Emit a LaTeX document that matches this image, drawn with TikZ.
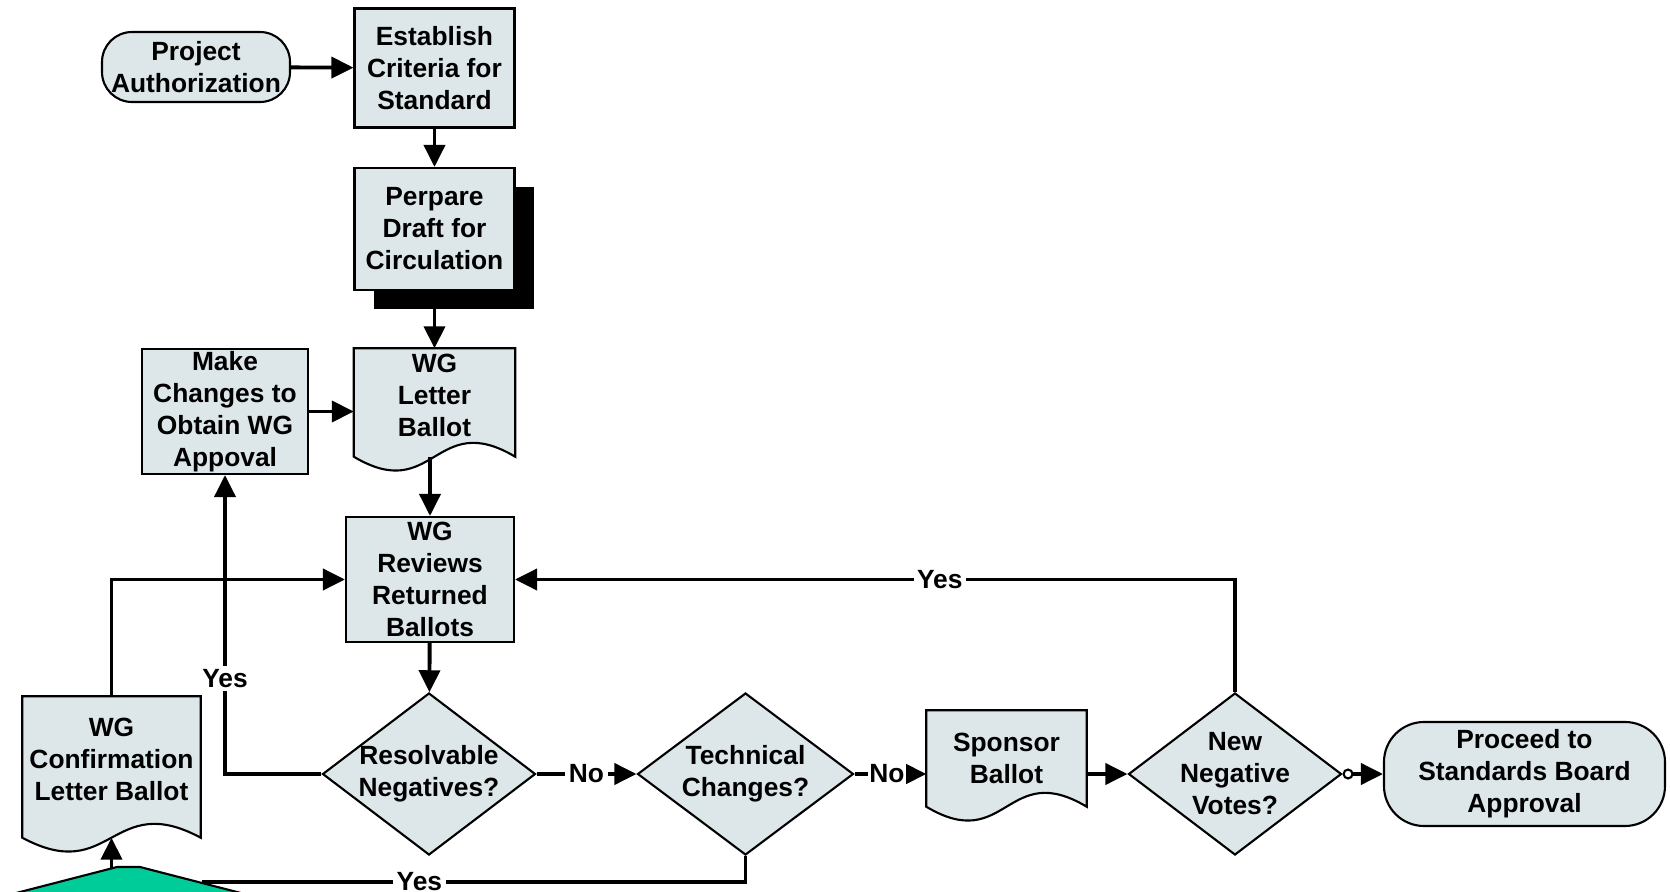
\documentclass[tikz,border=0pt]{standalone}
\usepackage{fontspec}
\setmainfont{Liberation Sans}
\usetikzlibrary{arrows.meta,positioning,calc,shapes.geometric,shadows,backgrounds}

\definecolor{boxfill}{RGB}{221,231,233}
\definecolor{tabgreen}{RGB}{0,204,153}

\tikzset{
  every node/.style={font=\fontsize{7.5}{9.1}\selectfont\bfseries, align=center},
  procbox/.style={rectangle, draw, line width=0.6pt, fill=boxfill, inner sep=0pt, minimum width=1.60cm},
  termbox/.style={rectangle, draw, line width=0.6pt, fill=boxfill, rounded corners=0.3cm, inner sep=0pt},
  docbox/.style={rectangle, inner sep=0pt},
  docline/.style={draw=black, fill=boxfill, line width=0.6pt},
  decision/.style={diamond, draw, line width=0.6pt, fill=boxfill, inner sep=0pt, minimum width=2.13cm, minimum height=1.62cm},
  shadowed/.style={drop shadow={fill=black, opacity=1, shadow xshift=0.19cm, shadow yshift=-0.19cm}},
  flow/.style={line width=1.1pt, -{Triangle[length=0.22cm,width=0.21cm]}},
  plainflow/.style={line width=1.1pt},
  answer/.style={fill=white, inner sep=1pt}
}

% document outline with wavy bottom, drawn behind the node
\newcommand{\docoutline}[1]{%
  \begin{pgfonlayer}{background}
    \path[docline] (#1.south west) -- (#1.north west) -- (#1.north east) -- (#1.south east)
      .. controls ($(#1.south)+(0,0.48)$) and ($(#1.south)+(0,-0.48)$) .. (#1.south west) -- cycle;
  \end{pgfonlayer}}

\begin{document}
\begin{tikzpicture}
\useasboundingbox (0,0) rectangle (16.70,-8.92);
% top column
\node[termbox, minimum width=1.88cm, minimum height=0.70cm] (proj) at (1.96,-0.67) {Project\\Authorization};
\node[procbox, minimum height=1.19cm] (estab) at (4.345,-0.68) {Establish\\Criteria for\\Standard};
\node[procbox, minimum height=1.22cm, shadowed] (draft) at (4.345,-2.29) {Perpare\\Draft for\\Circulation};
\node[docbox, minimum width=1.60cm, minimum height=1.07cm, label={[yshift=0.07cm]center:WG\\Letter\\Ballot}] (wgletter) at (4.345,-4.025) {};
\docoutline{wgletter}
\node[procbox, minimum width=1.66cm, minimum height=1.25cm] (changes) at (2.25,-4.115) {Make\\Changes to\\Obtain WG\\Appoval};
\node[procbox, minimum width=1.68cm, minimum height=1.25cm] (reviews) at (4.30,-5.795) {WG\\Reviews\\Returned\\Ballots};
% bottom row
\node[decision, label={center:Resolvable\\Negatives?}] (resolv) at (4.29,-7.74) {};
\node[decision, minimum width=2.16cm, label={center:Technical\\Changes?}] (tech) at (7.455,-7.74) {};
\node[docbox, minimum width=1.59cm, minimum height=0.95cm] (sponsor) at (10.065,-7.585) {Sponsor\\Ballot};
\docoutline{sponsor}
\node[decision, label={center:New\\Negative\\Votes?}] (newneg) at (12.35,-7.74) {};
\node[termbox, rounded corners=0.4cm, minimum width=2.81cm, minimum height=1.04cm] (proceed) at (15.245,-7.74) {Proceed to\\Standards Board\\Approval};
\node[docbox, minimum width=1.77cm, minimum height=1.40cm, label={[yshift=0.075cm]center:WG\\Confirmation\\Letter Ballot}] (confirm) at (1.115,-7.67) {};
\docoutline{confirm}
% green shape at the bottom edge
\filldraw[fill=tabgreen, draw=black, line width=0.6pt] (-0.11,-9.00) -- (1.17,-8.67) -- (1.40,-8.67) -- (2.68,-9.00) -- cycle;
\coordinate (greentop) at (1.115,-8.685);
\coordinate (greenright) at (2.02,-8.82);
% connectors
\draw[flow] (proj) -- (estab);
\draw[flow] (estab) -- (draft);
\draw[flow] (draft) -- (wgletter);
\draw[flow] (changes.east) -- (changes.east -| wgletter.west);
\draw[flow] (reviews.north |- wgletter.south) -- (reviews.north);
\draw[flow] (reviews) -- (resolv);
\draw[flow] (resolv.west) -| node[answer, pos=0.66] {Yes} (changes.south);
\draw[flow] (resolv) -- node[answer] {No} (tech);
\draw[flow] (tech.east) -- node[answer, inner sep=0.5pt, pos=0.45] {No} (sponsor.west |- tech.east);
\draw[plainflow] (tech.south) |- node[answer, pos=0.8] {Yes} (greenright);
\draw[flow] (sponsor.east |- newneg.west) -- (newneg.west);
\draw[line width=1.1pt, {Circle[open,length=0.11cm,line width=0.6pt]}-{Triangle[length=0.22cm,width=0.21cm]}] (newneg.east) -- (proceed.west);
\draw[flow] (newneg.north) |- node[answer, pos=0.705] {Yes} (reviews.east);
\draw[flow] (confirm.north) |- (reviews.west);
\draw[flow] (confirm.south |- greentop) -- (confirm.south);
\end{tikzpicture}
\end{document}
